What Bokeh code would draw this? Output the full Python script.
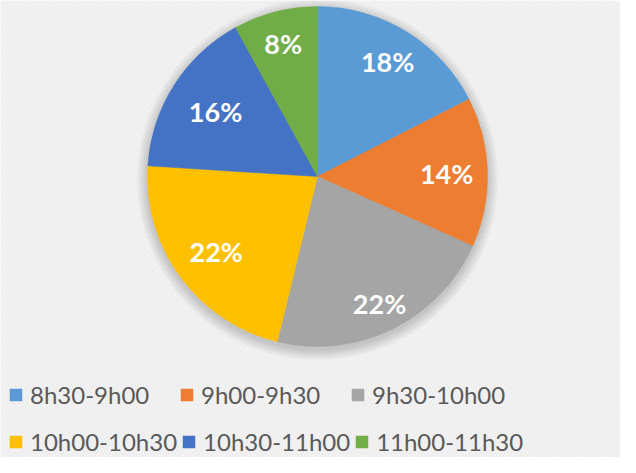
import math
from bokeh.plotting import figure
from bokeh.models import Range1d, Legend, LegendItem, ColumnDataSource
from bokeh.core.properties import value
from bokeh.embed import file_html
from bokeh.resources import INLINE

# ---- data ----
categories = ["8h30-9h00", "9h00-9h30", "9h30-10h00", "10h00-10h30", "10h30-11h00", "11h00-11h30"]
shares = [17.5, 14.2, 22.1, 22.2, 16.0, 8.0]
colors = ["#5B9BD5", "#ED7D31", "#A5A5A5", "#FFC000", "#4472C4", "#70AD47"]

W, H = 620, 457
p = figure(width=W, height=H, output_backend="svg", toolbar_location=None,
           x_range=Range1d(0, W), y_range=Range1d(0, H), min_border=0)
p.axis.visible = False
p.grid.visible = False
p.outline_line_color = None
p.background_fill_color = "#fbfbfb"
p.border_fill_color = "#fbfbfb"

# striped background
p.quad(left=[0], right=[W], bottom=[0], top=[H], fill_color="#fbfbfb", line_color=None,
       hatch_pattern="\\", hatch_color="#ececec", hatch_scale=6, hatch_weight=2)

cx, cy, R = 317, 281, 170

# soft shadow
for i in range(1, 12):
    p.circle(x=[cx], y=[cy - 3], radius=R + i, fill_color="#000000", fill_alpha=0.014,
             line_color=None)

total = sum(shares)
starts, ends, mids = [], [], []
acc = 0.0
for s in shares:
    a0 = acc / total
    acc += s
    a1 = acc / total
    starts.append(math.pi / 2 - 2 * math.pi * a0)
    ends.append(math.pi / 2 - 2 * math.pi * a1)
    mids.append(math.pi / 2 - math.pi * (a0 + a1))

src = ColumnDataSource(dict(start=starts, end=ends, color=colors, cat=categories))
wedges = p.wedge(x=cx, y=cy, radius=R, start_angle="start", end_angle="end", direction="clock",
                 fill_color="color", line_color="color", line_width=0.5, source=src)

label_r = [0.79, 0.76, 0.83, 0.74, 0.71, 0.81]
lx = [cx + R * f * math.cos(m) for f, m in zip(label_r, mids)]
ly = [cy + R * f * math.sin(m) for f, m in zip(label_r, mids)]
labels = [f"{round(s / total * 100)}%" for s in shares]
p.text(x=lx, y=ly, text=labels, text_color="white", text_font=value("Lato"),
       text_font_style="bold", text_font_size="27px", text_align="center",
       text_baseline="middle")

items = [LegendItem(label=c, renderers=[wedges], index=i) for i, c in enumerate(categories)]
for row, yloc in ((0, 48), (1, 1)):
    leg = Legend(items=items[row * 3:row * 3 + 3], orientation="horizontal",
                 location=(8, yloc), padding=0, margin=0, spacing=4,
                 glyph_width=15, glyph_height=15, label_standoff=7, label_width=145,
                 label_text_font="Lato", label_text_font_size="24px",
                 label_text_color="#595959", border_line_color=None,
                 background_fill_alpha=0)
    p.add_layout(leg, "center")

open("out.html", "w").write(file_html(p, INLINE))
